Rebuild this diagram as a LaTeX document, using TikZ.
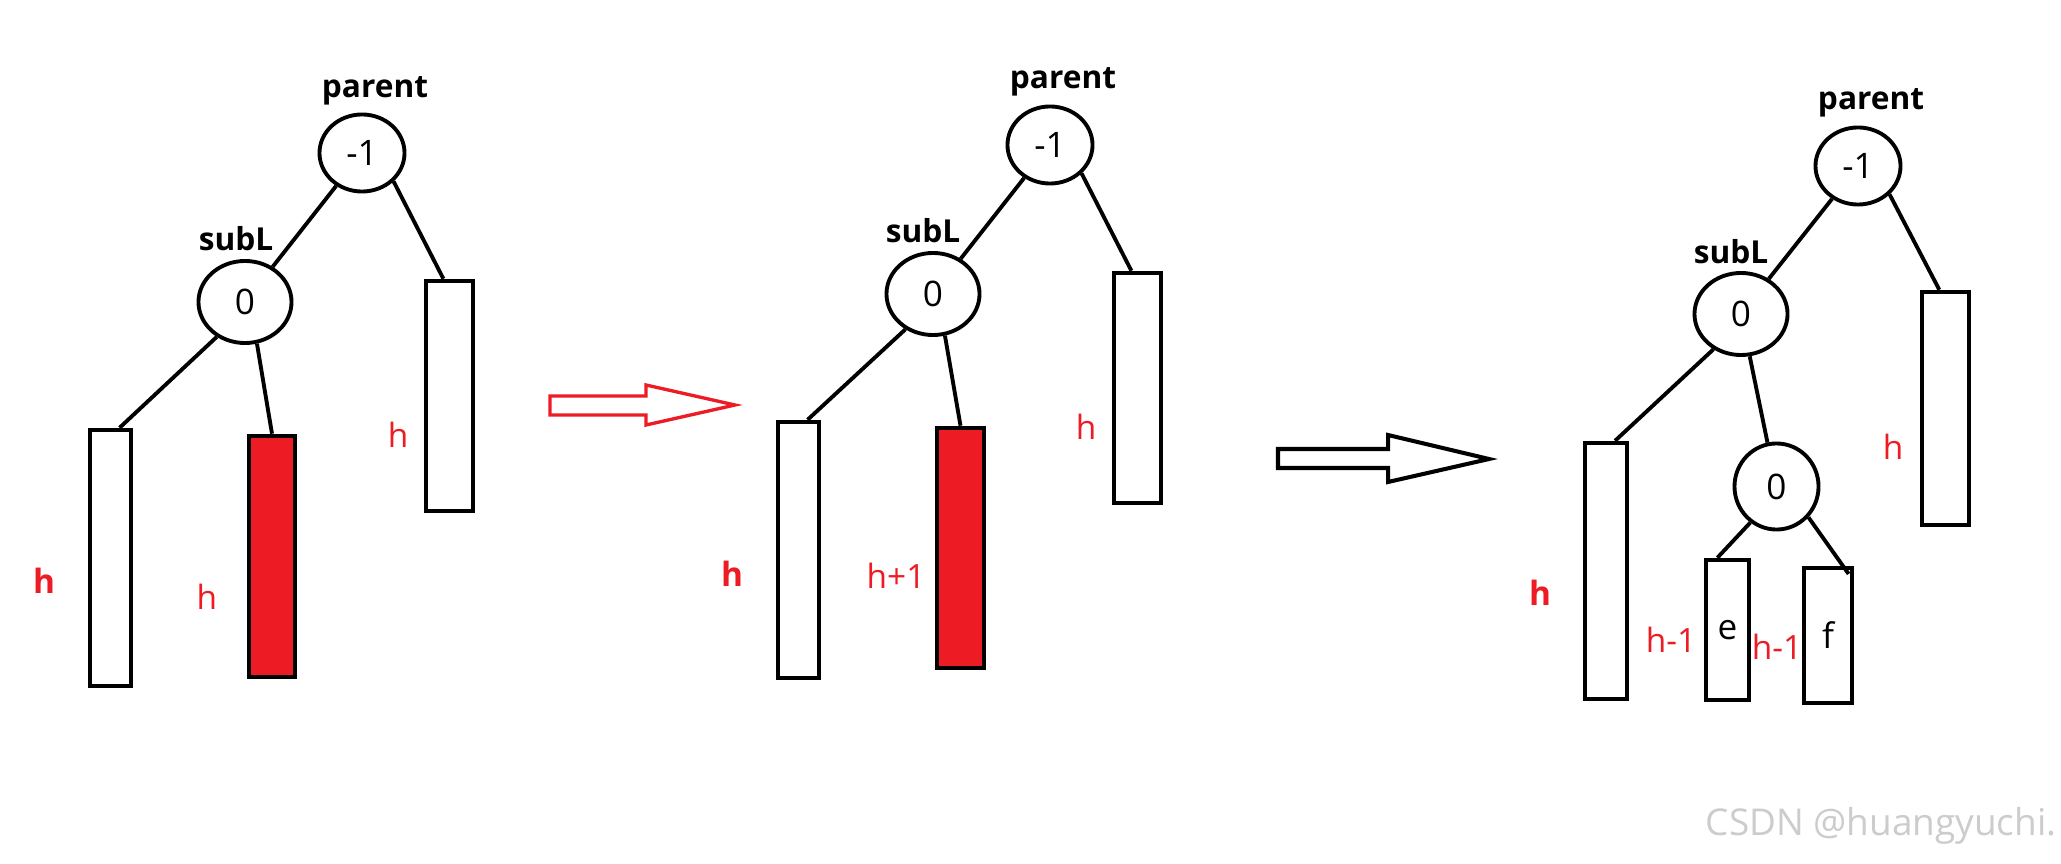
\documentclass[tikz,border=0pt]{standalone}
\usepackage{fontspec}
\setmainfont{Open Sans}
\usepackage{tikz}
\usetikzlibrary{shapes.geometric}
\definecolor{paint}{HTML}{ED1C24}
\definecolor{wmgray}{HTML}{CCCCCC}

\begin{document}
\begin{tikzpicture}[x=0.01cm,y=-0.01cm,font=\fontsize{9pt}{11pt}\selectfont,
  pn/.style={draw,ellipse,line width=1.1pt,minimum width=0.85cm,minimum height=0.77cm,inner sep=0pt,
    font=\fontsize{10pt}{12pt}\selectfont},
  sn/.style={pn,minimum width=0.93cm,minimum height=0.82cm},
  tree/.style={draw,line width=1.1pt,inner sep=0pt,font=\fontsize{10pt}{12pt}\selectfont},
  hot/.style={tree,fill=paint},
  lbl/.style={inner sep=0pt,font=\fontsize{9pt}{11pt}\selectfont\bfseries},
  ht/.style={inner sep=0pt,text=paint,font=\fontsize{9.5pt}{11pt}\selectfont},
  link/.style={line width=1.1pt}]
  \fill[white] (0,0) rectangle (2061,864);
  \useasboundingbox (0,0) rectangle (2061,864);

  % first tree
  \node[lbl] (t1) at (375,91) {parent};
  \node[pn] (p1) at (362,153) {-1};
  \node[lbl] (u1) at (236,239) {subL};
  \node[sn] (s1) at (245,302) {0};
  \node[tree,minimum width=0.415cm,minimum height=2.565cm] (l1) at (110.5,558) {};
  \node[hot,minimum width=0.465cm,minimum height=2.415cm] (rd1) at (272,556.5) {};
  \node[tree,minimum width=0.475cm,minimum height=2.305cm] (r1) at (449.5,396) {};
  \draw[link] (p1) -- (s1);
  \draw[link] (p1.-42) -- (r1.93);
  \draw[link] (s1.-129) -- (l1.86);
  \draw[link] (s1.-74) -- (rd1.north);
  \node[ht,font=\fontsize{9.5pt}{11pt}\selectfont\bfseries] (h1) at (44,581) {h};
  \node[ht] (h2) at (207,597) {h};
  \node[ht] (h3) at (398,435) {h};

  % red arrow
  \draw[paint,line width=0.95pt] (550,396) -- (646,396) -- (646,385) -- (735,405)
    -- (646,425) -- (646,415) -- (550,415) -- cycle;

  % second tree, left-left grown
  \node[lbl] (t2) at (1063,82) {parent};
  \node[pn] (p2) at (1050,145) {-1};
  \node[lbl] (u2) at (923,231) {subL};
  \node[sn] (s2) at (933,294) {0};
  \node[tree,minimum width=0.415cm,minimum height=2.565cm] (l2) at (798.5,550) {};
  \node[hot,minimum width=0.475cm,minimum height=2.405cm] (rd2) at (960.5,548) {};
  \node[tree,minimum width=0.475cm,minimum height=2.305cm] (r2) at (1137.5,388) {};
  \draw[link] (p2) -- (s2);
  \draw[link] (p2.-42) -- (r2.93);
  \draw[link] (s2.-128) -- (l2.86);
  \draw[link] (s2.-74) -- (rd2.north);
  \node[ht,font=\fontsize{9.5pt}{11pt}\selectfont\bfseries] (h4) at (732,574) {h};
  \node[ht] (h5) at (896,576) {h+1};
  \node[ht] (h6) at (1086,427) {h};

  % black arrow
  \draw[line width=1.15pt] (1278,449) -- (1388,449) -- (1388,435) -- (1489,459)
    -- (1388,482) -- (1388,468) -- (1278,468) -- cycle;

  % third tree, subL's right child split into e and f
  \node[lbl] (t3) at (1871,103) {parent};
  \node[pn] (p3) at (1858,166) {-1};
  \node[lbl] (u3) at (1731,252) {subL};
  \node[sn] (s3) at (1741,314) {0};
  \node[pn,minimum width=0.84cm,minimum height=0.86cm] (n3) at (1776.5,486.5) {0};
  \node[tree,minimum width=0.425cm,minimum height=2.565cm] (l3) at (1606,571) {};
  \node[tree,minimum width=0.435cm,minimum height=1.405cm] (e) at (1727.5,630) {e};
  \node[tree,minimum width=0.485cm,minimum height=1.355cm] (f) at (1828,635.5) {f};
  \node[tree,minimum width=0.475cm,minimum height=2.335cm] (r3) at (1945.5,408.5) {};
  \draw[link] (p3) -- (s3);
  \draw[link] (p3.-42) -- (r3.93);
  \draw[link] (s3.-128) -- (l3.86);
  \draw[link] (s3) -- (n3);
  \draw[link] (n3.-126) -- (e.98);
  \draw[link,shorten >=-0.1cm] (n3.-44) -- (f.78);
  \node[ht,font=\fontsize{9.5pt}{11pt}\selectfont\bfseries] (h7) at (1540,593) {h};
  \node[ht] (h8) at (1671,640) {h-1};
  \node[ht] (h9) at (1777,647) {h-1};
  \node[ht] (h10) at (1893,447) {h};

  \node[anchor=east,inner sep=0pt,text=wmgray,font=\fontsize{10.5pt}{12pt}\selectfont] (wm) at (2057,826) {CSDN @huangyuchi.};
\end{tikzpicture}
\end{document}
